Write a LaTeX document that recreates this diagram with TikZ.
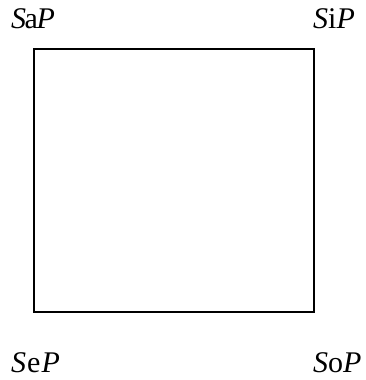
\documentclass[tikz,border=0pt]{standalone}
\usepackage{fontspec}
\setmainfont{Liberation Serif}
\tikzset{lbl/.style={inner sep=0pt, anchor=base west, font=\fontsize{30}{33}\selectfont},
sq/.style={draw=black, line width=2pt}}
\begin{document}
\begin{tikzpicture}[x=1pt,y=1pt]
\useasboundingbox (0,0) rectangle (365,-380);
\node[sq, minimum width=280pt, minimum height=263pt, inner sep=0pt, anchor=north west] (box) at (33,-48) {};
\node[lbl] (a) at (11,-28) {\textit{S}\kern-1.5pt a\kern-1.5pt\textit{P}};
\node[lbl] (i) at (313,-28) {\textit{S}i\textit{P}};
\node[lbl] (e) at (11,-372) {\textit{S}\kern1pt e\kern1pt\textit{P}};
\node[lbl] (o) at (313,-372) {\textit{S}o\textit{P}};
\end{tikzpicture}
\end{document}
